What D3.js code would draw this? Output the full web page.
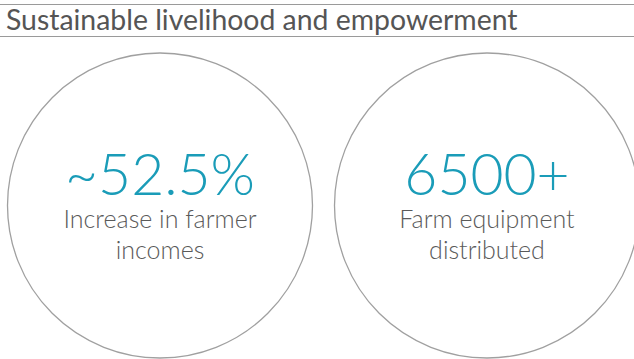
<!DOCTYPE html>
<html>
<head>
<meta charset="utf-8">
<script src="https://cdn.jsdelivr.net/npm/d3@7"></script>
<style>
  body { margin: 0; background: #fff; }
  svg { display: block; }
</style>
</head>
<body>
<div id="chart"></div>
<script>
var title = "Sustainable livelihood and empowerment";
var metrics = ["farmer_income", "farm_equipment"];
var figures = ["~52.5%", "6500+"];
var captions = [["Increase in farmer", "incomes"], ["Farm equipment", "distributed"]];

var width = 634, height = 359;

var svg = d3.select("#chart").append("svg")
    .attr("width", width)
    .attr("height", height);

// top rule and title underline
svg.append("line")
    .attr("x1", 0).attr("x2", width)
    .attr("y1", 4.5).attr("y2", 4.5)
    .attr("stroke", "#9a9a9a").attr("stroke-width", 1.2);

svg.append("text")
    .attr("x", 6).attr("y", 30)
    .attr("font-family", "Lato, 'Open Sans', sans-serif")
    .attr("font-size", 28.4)
    .attr("fill", "#555")
    .text(title);

svg.append("line")
    .attr("x1", 0).attr("x2", width)
    .attr("y1", 36.5).attr("y2", 36.5)
    .attr("stroke", "#9a9a9a").attr("stroke-width", 1.2);

// circle positions
var x = d3.scalePoint()
    .domain(metrics)
    .range([160, 487]);
var cy = 205.5, r = 152.5;

var g = svg.selectAll(".metric")
    .data(metrics)
    .enter().append("g")
    .attr("class", "metric")
    .attr("transform", function(d) { return "translate(" + x(d) + "," + cy + ")"; });

g.append("circle")
    .attr("r", r)
    .attr("fill", "none")
    .attr("stroke", "#a0a0a0")
    .attr("stroke-width", 1.3);

g.append("text")
    .attr("y", -11)
    .attr("text-anchor", "middle")
    .attr("font-family", "Lato, 'Open Sans', sans-serif")
    .attr("font-weight", 300)
    .attr("font-size", 57)
    .attr("fill", "#1a9cb8")
    .text(function(d, i) { return figures[i]; });

g.each(function(d, i) {
    var el = d3.select(this);
    captions[i].forEach(function(line, j) {
        el.append("text")
            .attr("y", 22 + j * 31)
            .attr("text-anchor", "middle")
            .attr("font-family", "Lato, 'Open Sans', sans-serif")
            .attr("font-weight", 300)
            .attr("font-size", 25)
            .attr("fill", "#5a5a5a")
            .text(line);
    });
});
</script>
</body>
</html>
